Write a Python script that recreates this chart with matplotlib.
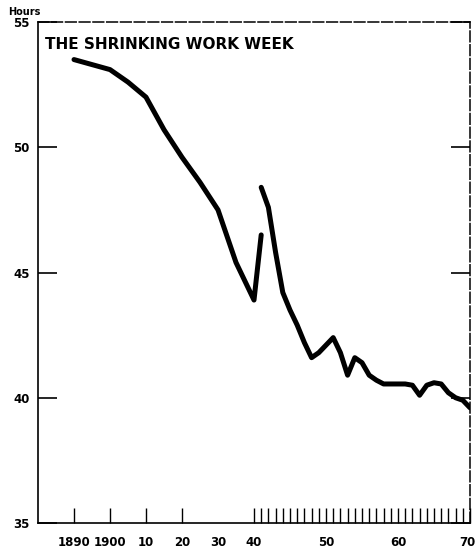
import numpy as np
import matplotlib
matplotlib.use("Agg")
import matplotlib.pyplot as plt
import matplotlib.transforms as mtransforms

plt.rcParams['font.family'] = ['DejaVu Sans']

# old series (to 1941) and new series (from 1941)
years_old = [1890, 1900, 1905, 1910, 1915, 1920, 1925, 1930, 1935, 1940, 1941]
hours_old = [53.5, 53.1, 52.6, 52.0, 50.7, 49.6, 48.6, 47.5, 45.4, 43.9, 46.5]

years_new = [1941, 1942, 1943, 1944, 1945, 1946, 1947, 1948, 1949, 1950,
             1951, 1952, 1953, 1954, 1955, 1956, 1957, 1958, 1959, 1960,
             1961, 1962, 1963, 1964, 1965, 1966, 1967, 1968, 1969, 1970]
hours_new = [48.4, 47.6, 45.8, 44.2, 43.5, 42.9, 42.2, 41.6, 41.8, 42.1,
             42.4, 41.8, 40.9, 41.6, 41.4, 40.9, 40.7, 40.55, 40.55, 40.55,
             40.55, 40.5, 40.1, 40.5, 40.6, 40.55, 40.2, 40.0, 39.9, 39.6]

label_years = [1890, 1900, 1910, 1920, 1930, 1940, 1950, 1960, 1970]
label_text = ['1890', '1900', '10', '20', '30', '40', '50', '60', '70']
tick_years = [1890, 1900, 1910, 1920] + list(range(1940, 1971))
y_ticks = [35, 40, 45, 50, 55]


# before 1940 one year per unit, after 1940 two units per year
def fwd(x):
    x = np.asarray(x, dtype=float)
    return np.where(x <= 1940, x - 1880, 60 + 2 * (x - 1940))


def inv(u):
    u = np.asarray(u, dtype=float)
    return np.where(u <= 60, u + 1880, 1940 + (u - 60) / 2)


fig = plt.figure(figsize=(4.76, 5.48), dpi=100)
ax = fig.add_axes([38 / 476, 25 / 548, 432 / 476, 501 / 548])
ax.set_xscale('function', functions=(fwd, inv))

ax.plot(years_old, hours_old, color='black', lw=3.6, solid_capstyle='round',
        solid_joinstyle='round')
ax.plot(years_new, hours_new, color='black', lw=3.6, solid_capstyle='round',
        solid_joinstyle='round')

ax.set_xlim(1880, 1970)
ax.set_ylim(35, 55)

ax.xaxis.remove_overlapping_locs = False
ax.set_xticks(label_years)
ax.set_xticklabels(label_text, fontsize=8.5, fontweight='bold')
ax.set_xticks(tick_years, minor=True)
ax.tick_params(axis='x', which='major', length=0, pad=9)
ax.tick_params(axis='x', which='minor', direction='in', length=11, width=1)

# keep the "70" inside the picture
last = ax.get_xticklabels()[-1]
last.set_ha('right')
last.set_transform(last.get_transform() +
                   mtransforms.ScaledTranslation(5 / 100, 0, fig.dpi_scale_trans))

ax.set_yticks(y_ticks)
ax.set_yticklabels([str(v) for v in y_ticks], fontsize=8.5, fontweight='bold')
ax.tick_params(axis='y', direction='in', length=14, width=1.2, right=True,
               pad=6)

for s in ['left', 'bottom']:
    ax.spines[s].set_linewidth(1.2)
for s in ['top', 'right']:
    ax.spines[s].set_linewidth(1.1)
    ax.spines[s].set_linestyle((0, (7, 2)))

ax.text(0.017, 0.955, 'THE SHRINKING WORK WEEK', transform=ax.transAxes,
        fontsize=11, fontweight='bold', va='center', ha='left')
fig.text(8 / 476, 1 - 12 / 548, 'Hours', fontsize=7, fontweight='bold',
         va='center', ha='left')

fig.savefig('out.png', dpi=100)
